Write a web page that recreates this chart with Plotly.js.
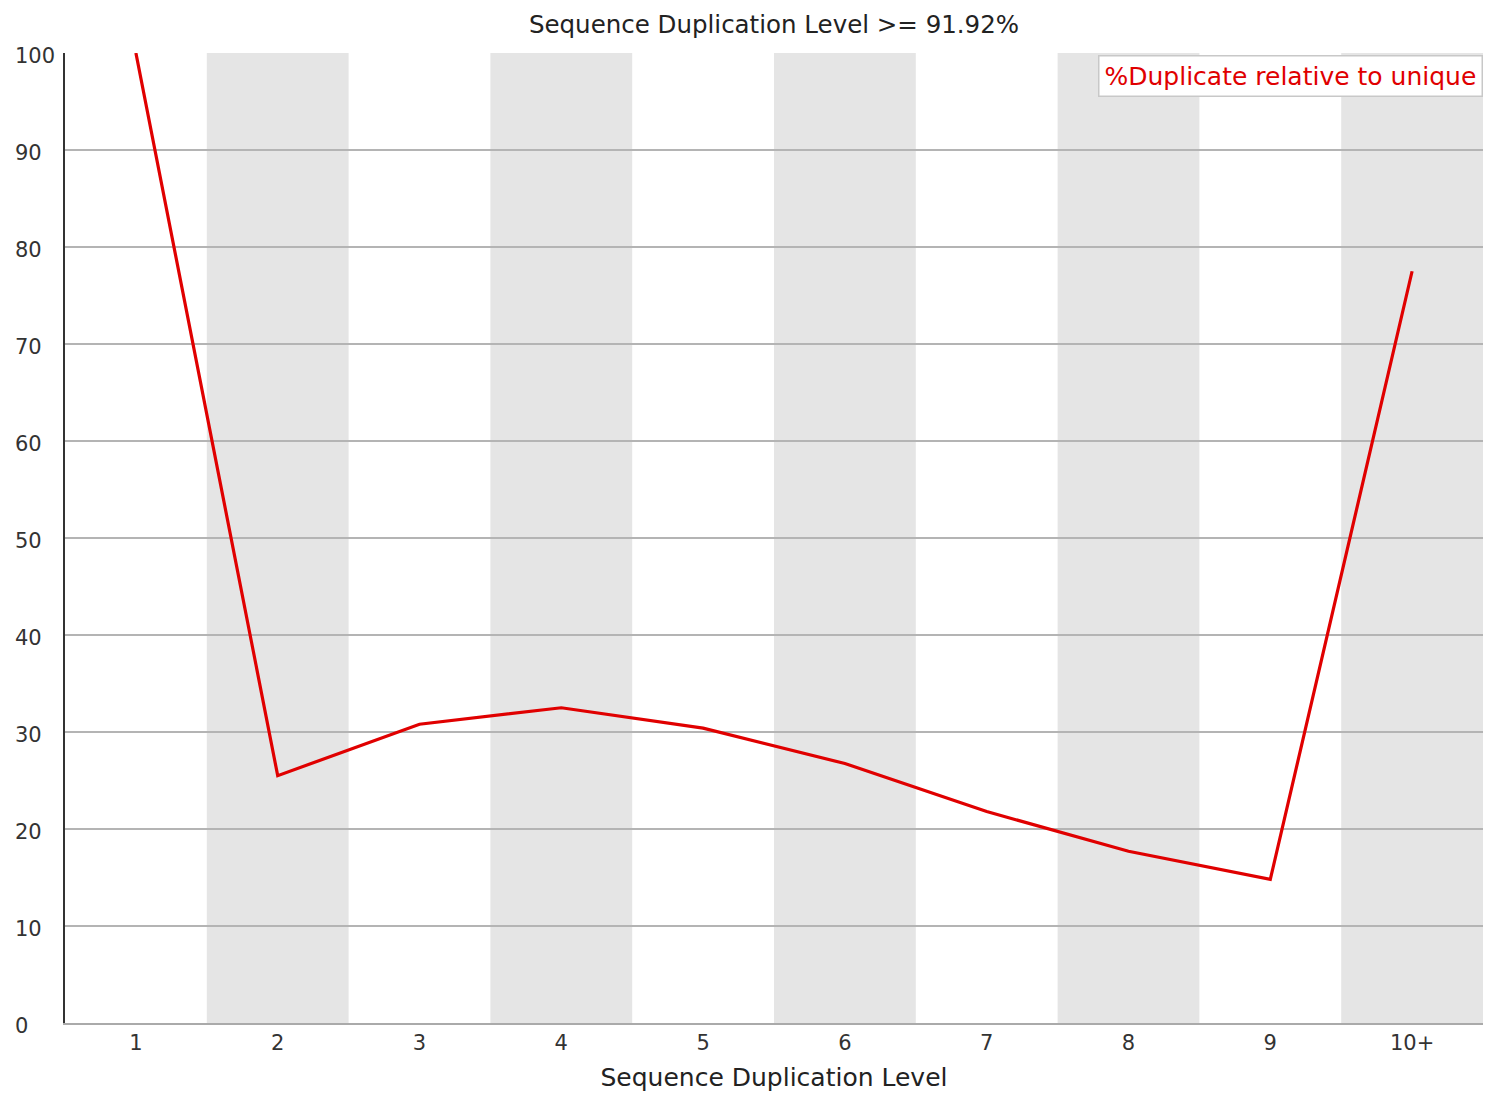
<!DOCTYPE html>
<html>
<head>
<meta charset="utf-8">
<script src="https://cdn.plot.ly/plotly-3.0.1.min.js"></script>
<style>html,body{margin:0;padding:0;background:#fff;}#chart{width:1495px;height:1095px;}</style>
</head>
<body>
<div id="chart"></div>
<script>
const categories = ["1","2","3","4","5","6","7","8","9","10+"];
const duplicatePct = [100, 25.5, 30.8, 32.5, 30.4, 26.75, 21.8, 17.7, 14.8, 77.5];
const yTicks = [0,10,20,30,40,50,60,70,80,90,100];
const titleText = "Sequence Duplication Level >= 91.92%";
const xTitleText = "Sequence Duplication Level";
const seriesName = "%Duplicate relative to unique";

const FONT = "DejaVu Sans, sans-serif";

const bandShapes = categories.map((c, i) => i % 2 === 1 ? {
  type: "rect", layer: "below", xref: "x", yref: "paper",
  x0: i - 0.5, x1: i + 0.5, y0: 0, y1: 1,
  fillcolor: "#e5e5e5", line: {width: 0}
} : null).filter(s => s);

const yLabelAnnotations = yTicks.map(v => ({
  xref: "paper", yref: "y", x: 0, y: v, xanchor: "left", yanchor: "middle",
  xshift: -52, yshift: -3, showarrow: false, text: String(v),
  font: {family: FONT, size: 21, color: "#333"}
}));

const trace = {
  x: categories.map((c, i) => i),
  y: duplicatePct,
  type: "scatter", mode: "lines",
  line: {color: "#e00000", width: 3.2},
  name: seriesName, showlegend: false, cliponaxis: false
};

const layout = {
  width: 1495, height: 1095,
  margin: {l: 65, r: 12, t: 53, b: 72},
  paper_bgcolor: "#fff", plot_bgcolor: "#fff",
  title: {text: titleText, x: 0.5, xref: "paper", xanchor: "center", y: 1 - 24 / 1095, yref: "container", yanchor: "middle", font: {family: FONT, size: 24.5, color: "#222"}},
  xaxis: {
    range: [-0.5, categories.length - 0.5],
    tickmode: "array", tickvals: categories.map((c, i) => i), ticktext: categories,
    showgrid: false, zeroline: false, showline: true, linecolor: "#aaa", linewidth: 2,
    ticks: "", ticklen: 0, tickfont: {family: FONT, size: 21, color: "#333"},
    title: {text: xTitleText, font: {family: FONT, size: 25, color: "#222"}, standoff: 14},
    fixedrange: true
  },
  yaxis: {
    range: [0, 100], tickvals: yTicks, showticklabels: false,
    showgrid: true, gridcolor: "#b4b4b4", gridwidth: 1.5,
    zeroline: false, showline: true, linecolor: "#333", linewidth: 2,
    ticks: "", fixedrange: true
  },
  shapes: bandShapes,
  annotations: yLabelAnnotations.concat([{
    xref: "paper", yref: "paper", x: 1, y: 1, xanchor: "right", yanchor: "top",
    yshift: -2, showarrow: false, text: seriesName,
    font: {family: FONT, size: 25, color: "#e00000"},
    bgcolor: "#fff", bordercolor: "#c8c8c8", borderwidth: 1.5, borderpad: 5
  }]),
  showlegend: false
};

Plotly.newPlot("chart", [trace], layout, {displayModeBar: false, staticPlot: true});
</script>
</body>
</html>
